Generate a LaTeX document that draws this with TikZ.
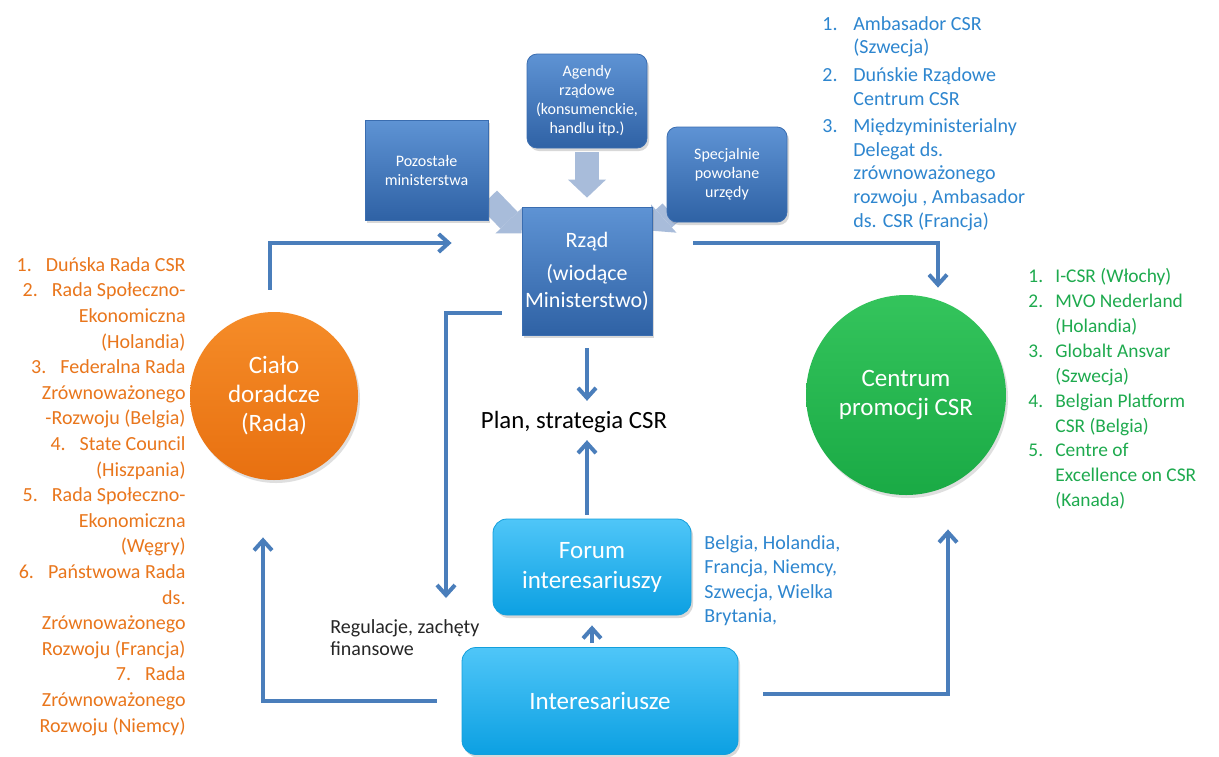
\documentclass[tikz,border=0pt]{standalone}
\usepackage{fontspec}
\setmainfont{Carlito}
\usetikzlibrary{arrows.meta,calc,shadows}
\definecolor{govtop}{HTML}{5E93D4}
\definecolor{govbottom}{HTML}{2F62A5}
\definecolor{govedge}{HTML}{3A6DB0}
\definecolor{staketop}{HTML}{4FC6F8}
\definecolor{stakebottom}{HTML}{0CA0E2}
\definecolor{stakeedge}{HTML}{139FDC}
\definecolor{linkblue}{HTML}{4A7EBB}
\definecolor{fatgray}{HTML}{A8BCDA}
\definecolor{listorange}{HTML}{E9761C}
\definecolor{listgreen}{HTML}{1EAA4E}
\definecolor{listblue}{HTML}{2E86CF}
\definecolor{radatop}{HTML}{F58C28}
\definecolor{radabottom}{HTML}{E87010}
\definecolor{centrumtop}{HTML}{34C45C}
\definecolor{centrumbottom}{HTML}{1AAA45}
\pgfdeclarelayer{background}
\pgfsetlayers{background,main}
\newcommand{\numitem}[2][15.5pt]{\makebox[#1][l]{#2}}
\newcommand{\indentline}[1][15.5pt]{\hspace*{#1}}
\newcommand{\rnum}[1]{#1\hspace{7pt}}
\tikzset{
 govbox/.style={draw=govedge,top color=govtop,bottom color=govbottom,text=white,
   align=center,inner sep=1pt,font=\fontsize{8}{9.5}\selectfont,
   drop shadow={opacity=0.3,shadow xshift=1pt,shadow yshift=-1.5pt}},
 stakebox/.style={draw=stakeedge,top color=staketop,bottom color=stakebottom,text=white,
   align=center,rounded corners=7pt,font=\fontsize{12.5}{15}\selectfont,
   drop shadow={opacity=0.3,shadow xshift=1pt,shadow yshift=-1.5pt}},
 bodycircle/.style={circle,text=white,align=center,font=\fontsize{12.5}{14.5}\selectfont,
   drop shadow={opacity=0.25,shadow xshift=1pt,shadow yshift=-1.5pt}},
 link/.style={draw=linkblue,line width=2pt,-{Straight Barb[length=5pt,width=9pt]}},
 fat/.style={draw=fatgray,line width=12pt,-{Triangle[length=9pt,width=19pt,line width=0pt]}},
 listtext/.style={align=left,inner sep=0pt,font=\fontsize{10}{12}\selectfont}
}

\begin{document}
\begin{tikzpicture}[x=0.5pt,y=-0.5pt]
\begin{pgfonlayer}{background}
\fill[white] (0,0) rectangle (1219,756);
\end{pgfonlayer}
\useasboundingbox (0,0) rectangle (1219,756);
% government side
\node[govbox,rounded corners=5pt,minimum width=60pt,minimum height=47pt] (agendy) at (587,101)
  {Agendy\\rządowe\\(konsumenckie,\\handlu itp.)};
\node[govbox,minimum width=61.5pt,minimum height=50pt] (pozostale) at (426.5,170)
  {Pozostałe\\ministerstwa};
\node[govbox,rounded corners=5pt,minimum width=60pt,minimum height=47.5pt] (specjalnie) at (727,174.5)
  {Specjalnie\\powołane\\urzędy};
\node[govbox,font=\fontsize{11}{13.5}\selectfont,minimum width=65pt,minimum height=64pt] (rzad) at (587,271)
  {Rząd\\[3pt](wiodące\\Ministerstwo)};
\node[font=\fontsize{12.4}{14}\selectfont,inner sep=0pt] (plan) at (574,422) {Plan, strategia CSR};
% stakeholders
\node[stakebox,minimum width=99pt,minimum height=48pt] (forum) at (592,567) {Forum\\interesariuszy};
\node[stakebox,minimum width=138pt,minimum height=53.5pt] (inter) at (600,701) {Interesariusze};
\node[bodycircle,minimum size=84pt,top color=radatop,bottom color=radabottom] (rada) at (274,396)
  {Ciało\\doradcze\\(Rada)};
\node[bodycircle,minimum size=100pt,top color=centrumtop,bottom color=centrumbottom] (centrum) at (906,395)
  {Centrum\\promocji CSR};
% text labels
\node[listtext,font=\fontsize{10}{11}\selectfont,text=black!85,anchor=north west] (reg) at (330,619)
  {Regulacje, zachęty\\finansowe};
\node[listtext,font=\fontsize{10}{12.2}\selectfont,text=listblue,anchor=north west] (kraje) at (704,535)
  {Belgia, Holandia,\\Francja, Niemcy,\\Szwecja, Wielka\\Brytania,};
\node[listtext,font=\fontsize{10}{11.8}\selectfont,text=listblue,anchor=north west] (ambasador) at (822,16)
  {\numitem{1.}Ambasador CSR\\ \indentline(Szwecja)\\[2pt]
   \numitem{2.}Duńskie Rządowe\\ \indentline Centrum CSR\\[2pt]
   \numitem{3.}Międzyministerialny\\ \indentline Delegat ds.\\ \indentline zrównoważonego\\
   \indentline rozwoju , Ambasador\\ \indentline ds. CSR (Francja)};
\node[listtext,font=\fontsize{9.7}{12.45}\selectfont,text=listgreen,anchor=north west] (osrodki) at (1028,268)
  {\numitem[13.5pt]{1.}I-CSR (Włochy)\\ \numitem[13.5pt]{2.}MVO Nederland\\ \indentline[13.5pt](Holandia)\\
   \numitem[13.5pt]{3.}Globalt Ansvar\\ \indentline[13.5pt](Szwecja)\\
   \numitem[13.5pt]{4.}Belgian Platform\\ \indentline[13.5pt]CSR (Belgia)\\
   \numitem[13.5pt]{5.}Centre of\\ \indentline[13.5pt]Excellence on CSR\\ \indentline[13.5pt](Kanada)};
\node[listtext,align=right,font=\fontsize{10}{12.8}\selectfont,text=listorange,anchor=north east] (rady) at (186,257)
  {\rnum{1.}Duńska Rada CSR\\ \rnum{2.}Rada Społeczno-\\ Ekonomiczna\\ (Holandia)\\
   \rnum{3.}Federalna Rada\\ Zrównoważonego\\ -Rozwoju (Belgia)\\ \rnum{4.}State Council\\ (Hiszpania)\\
   \rnum{5.}Rada Społeczno-\\ Ekonomiczna\\ (Węgry)\\ \rnum{6.}Państwowa Rada\\ ds.\\ Zrównoważonego\\
   Rozwoju (Francja)\\ \rnum{7.}Rada\\ Zrównoważonego\\ Rozwoju (Niemcy)};
% block arrows into the ministry
\begin{pgfonlayer}{background}
\draw[fat,shorten <=2pt,shorten >=4.5pt] (agendy.south) -- (rzad.north);
\draw[fat] (pozostale.-25) -- (rzad.150);
\draw[fat] ([shift={(2pt,5pt)}]specjalnie.south west) -- ([shift={(-1pt,-12pt)}]rzad.north east);
\end{pgfonlayer}
% connectors
\coordinate (regtip) at (446,598);
\draw[link,shorten <=11pt,shorten >=35pt] ([xshift=-2pt]rada.north) |- ([yshift=14pt]rzad.west);
\draw[link,shorten <=20.5pt,shorten >=3.5pt] ([yshift=14pt]rzad.east) -| ([xshift=16pt]centrum.north);
\draw[link,shorten <=10pt] ([yshift=-21pt]rzad.west) -| (regtip);
\draw[link,shorten <=6.5pt,shorten >=5pt] (rzad.south) -- (rzad.south |- plan.north);
\draw[link,shorten <=2pt,shorten >=3.5pt] (rzad.south |- forum.north) -- (rzad.south |- plan.south);
\draw[link,shorten <=2pt,shorten >=5pt] (forum.south |- inter.north) -- (forum.south);
\draw[link,shorten <=12.5pt,shorten >=28.5pt] (inter.west) -| ([xshift=-5.5pt]rada.south);
\draw[link,shorten <=12.5pt,shorten >=17pt] ([yshift=3.5pt]inter.east) -| ([xshift=21pt]centrum.south);
\end{tikzpicture}
\end{document}
